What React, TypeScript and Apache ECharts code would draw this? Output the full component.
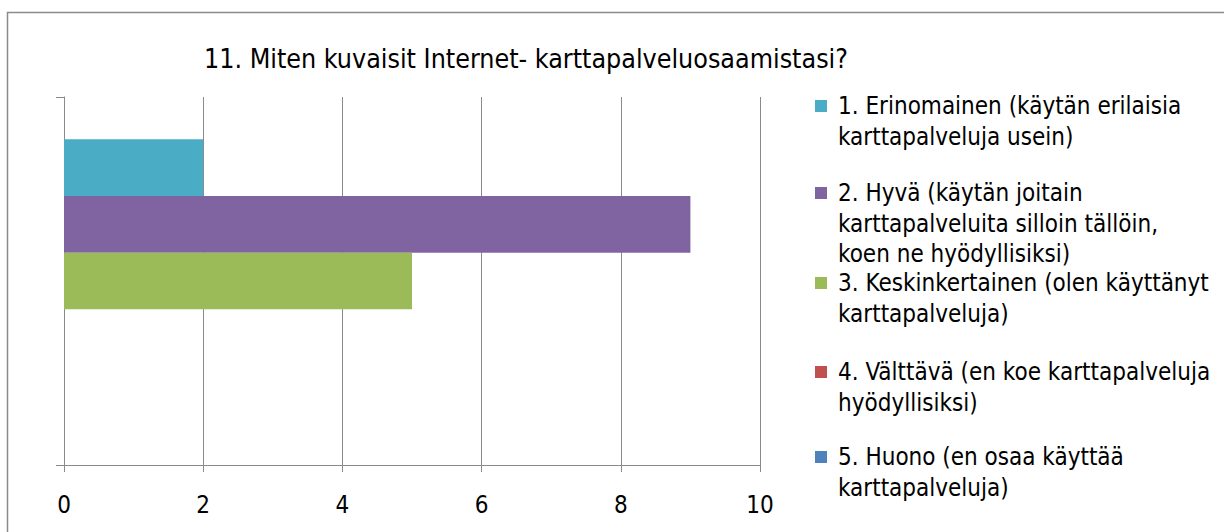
import React, { useEffect, useRef } from "react";
import * as echarts from "echarts";

const titleText = "11. Miten kuvaisit Internet- karttapalveluosaamistasi?";
const categories = [""];
const seriesNames = [
  "1. Erinomainen (käytän erilaisia karttapalveluja usein)",
  "2. Hyvä (käytän joitain karttapalveluita silloin tällöin, koen ne hyödyllisiksi)",
  "3. Keskinkertainen (olen käyttänyt karttapalveluja)",
  "4. Välttävä (en koe karttapalveluja hyödyllisiksi)",
  "5. Huono (en osaa käyttää karttapalveluja)",
];
const legendLines = [
  ["1. Erinomainen (käytän erilaisia", "karttapalveluja usein)"],
  ["2. Hyvä (käytän joitain", "karttapalveluita silloin tällöin,", "koen ne hyödyllisiksi)"],
  ["3. Keskinkertainen (olen käyttänyt", "karttapalveluja)"],
  ["4. Välttävä (en koe karttapalveluja", "hyödyllisiksi)"],
  ["5. Huono (en osaa käyttää", "karttapalveluja)"],
];
const values = [2, 9, 5, 0, 0];
const colors = ["#4BACC6", "#8064A2", "#9BBB59", "#C0504D", "#4F81BD"];
const xMin = 0;
const xMax = 10;
const xInterval = 2;

const FONT = "'DejaVu Sans Condensed', 'DejaVu Sans', sans-serif";
const GRAY = "#8a8a8a";

export default function App() {
  const ref = useRef<HTMLDivElement>(null);
  useEffect(() => {
    if (!ref.current) return;
    const chart = echarts.init(ref.current, undefined, { renderer: "svg" });
    const legendTops = [106, 193, 283, 372, 457];
    const lh = 30.5;
    const legendGraphics: any[] = [];
    legendLines.forEach((lines, i) => {
      const c = legendTops[i];
      legendGraphics.push({
        type: "rect",
        shape: { x: 815, y: c - 6, width: 12, height: 12 },
        style: { fill: colors[i] },
        silent: true,
      });
      legendGraphics.push({
        type: "text",
        x: 838,
        y: c - lh / 2,
        style: {
          text: lines.join("\n"),
          fontSize: 24,
          fontFamily: FONT,
          lineHeight: lh,
          fill: "#000",
          verticalAlign: "top",
        },
        silent: true,
      });
    });
    const option: any = {
      animation: false,
      backgroundColor: "#fff",
      title: {
        text: titleText,
        left: 521,
        top: 40,
        textAlign: "center",
        textStyle: { fontFamily: FONT, fontSize: 26.6, fontWeight: "normal", color: "#000" },
      },
      grid: { left: 64, top: 97, width: 696, height: 368, containLabel: false },
      xAxis: {
        type: "value",
        min: xMin,
        max: xMax,
        interval: xInterval,
        axisLine: { show: true, lineStyle: { color: GRAY, width: 1 } },
        axisTick: { show: true, length: 7, lineStyle: { color: GRAY } },
        splitLine: { show: true, lineStyle: { color: GRAY, width: 1 } },
        axisLabel: { color: "#000", fontFamily: FONT, fontSize: 24, margin: 28 },
      },
      yAxis: {
        type: "category",
        data: categories,
        inverse: true,
        axisLine: { show: true, lineStyle: { color: GRAY, width: 1 } },
        axisTick: { show: true, length: 8, lineStyle: { color: GRAY } },
        axisLabel: { show: false },
      },
      series: seriesNames.map((name, i) => ({
        type: "bar",
        name,
        data: [values[i]],
        itemStyle: { color: colors[i] },
        barGap: "0%",
        barCategoryGap: "23%",
      })),
      graphic: [
        {
          type: "rect",
          shape: { x: 7.5, y: 12.5, width: 1300, height: 700 },
          style: { fill: "none", stroke: GRAY, lineWidth: 1.5 },
          silent: true,
          z: 100,
        },
        ...legendGraphics,
      ],
    };
    chart.setOption(option);
    return () => chart.dispose();
  }, []);
  return (
    <div
      ref={ref}
      style={{ position: "absolute", left: 0, top: 0, width: 1224, height: 532 }}
    />
  );
}
